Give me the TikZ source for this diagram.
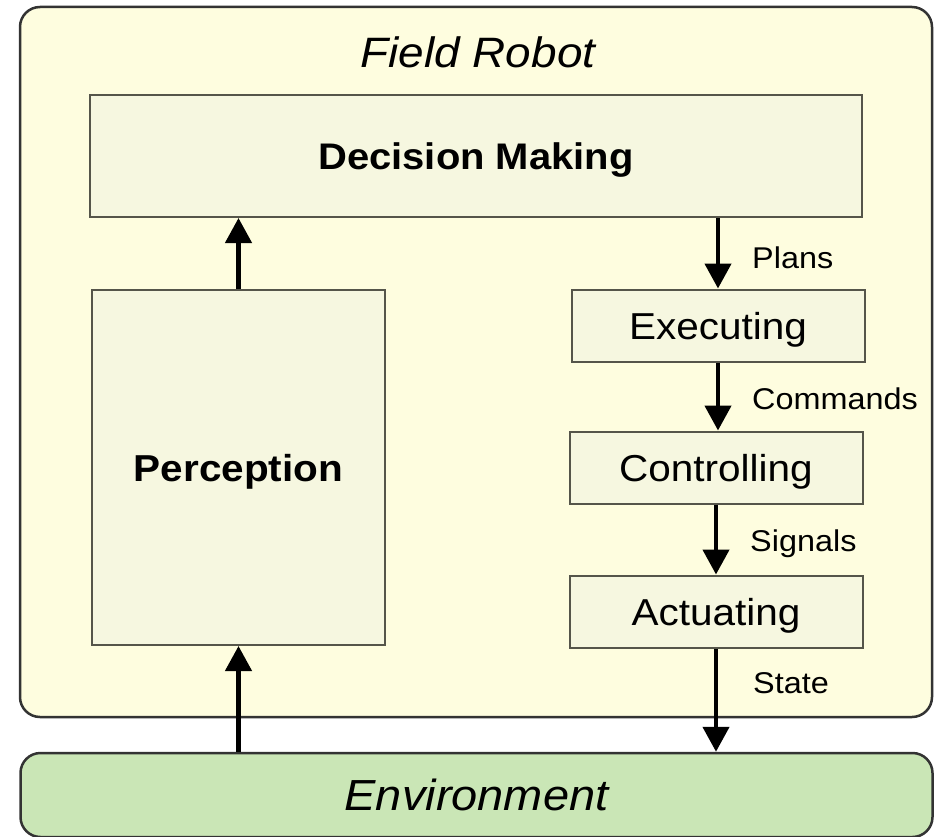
\documentclass[tikz,border=0pt]{standalone}
\usepackage{fontspec}
\setmainfont{Liberation Sans}[FakeStretch=1.08]
\usetikzlibrary{arrows.meta}
\definecolor{robotfill}{HTML}{FEFDDF}
\definecolor{boxfill}{HTML}{F6F7E0}
\definecolor{envfill}{HTML}{CAE6B6}
\definecolor{boxline}{HTML}{55554A}
\definecolor{frameline}{HTML}{333333}
\tikzset{
  capcentred/.style={text height=#1, text depth=0pt},
  frame/.style={draw=frameline, line width=2.5pt, rounded corners=20pt},
  block/.style={draw=boxline, line width=2pt, fill=boxfill, inner sep=0pt},
  flow/.style={line width=4.5pt, -{Triangle[width=26pt,length=25pt]}},
  flowlabel/.style={anchor=west, inner sep=0pt, capcentred=21.5pt, font=\fontsize{30}{36}\selectfont},
  stage/.style={block, capcentred=27pt, minimum width=293pt, minimum height=72pt, font=\fontsize{37.5}{44}\selectfont}
}
\begin{document}
\begin{tikzpicture}[x=1pt, y=-1pt]
  \useasboundingbox (0,0) rectangle (939,837);
  % outer robot frame and environment strip
  \draw[frame, fill=robotfill] (20,7) rectangle (932,717);
  \node[frame, fill=envfill, minimum width=912pt, minimum height=84pt, inner sep=0pt, capcentred=31pt,
        font=\fontsize{43.5}{50}\selectfont\itshape] (env) at (476.5,795) {Environment};
  \node[capcentred=30.5pt, inner sep=0pt, font=\fontsize{42.5}{50}\selectfont\itshape] (title) at (478,52.5) {Field Robot};
  % processing blocks
  \node[block, capcentred=26.5pt, minimum width=772pt, minimum height=122pt,
        font=\fontsize{37}{44}\selectfont\bfseries] (dm) at (476,156) {Decision Making};
  \node[block, capcentred=27pt, minimum width=293pt, minimum height=355pt,
        font=\fontsize{37.5}{44}\selectfont\bfseries] (perc) at (238.5,467.5) {Perception};
  \node[stage] (exec) at (718,325.5) {Executing};
  \node[stage] (ctrl) at (716,467.5) {Controlling};
  \node[stage] (act)  at (716,611.5) {Actuating};
  % information flow
  \draw[flow] (perc.north) -- (perc.north |- dm.south);
  \draw[flow] (perc.south |- env.north) -- (perc.south);
  \draw[flow] (dm.south -| exec.north) -- (exec.north);
  \draw[flow] (exec.south) -- (ctrl.north -| exec.south);
  \draw[flow] (ctrl.south) -- (act.north);
  \draw[flow] (act.south) -- (act.south |- env.north);
  % flow labels
  \node[flowlabel] (lplans) at (752,257.5) {Plans};
  \node[flowlabel] (lcmd)   at (752,399) {Commands};
  \node[flowlabel] (lsig)   at (750,541) {Signals};
  \node[flowlabel] (lstate) at (753,683) {State};
\end{tikzpicture}
\end{document}
